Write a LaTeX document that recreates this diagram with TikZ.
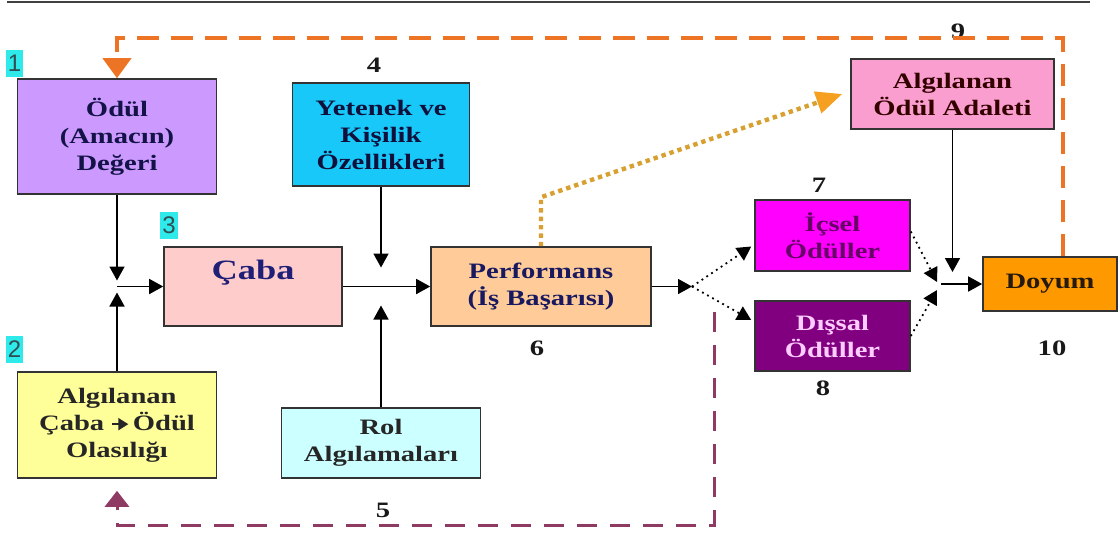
\documentclass[tikz,border=0pt]{standalone}
\usepackage{fontspec}
\setmainfont{Liberation Serif}[FakeStretch=1.3]
\setsansfont{Liberation Sans}
\usetikzlibrary{arrows.meta}
\definecolor{odulfill}{HTML}{CC99FF}
\definecolor{yetenekfill}{HTML}{18C8F8}
\definecolor{cabafill}{HTML}{FFCCCC}
\definecolor{olasfill}{HTML}{FFFF99}
\definecolor{rolfill}{HTML}{CCFFFF}
\definecolor{perffill}{HTML}{FFCC99}
\definecolor{adaletfill}{HTML}{FA9ECF}
\definecolor{icselfill}{HTML}{FF00FF}
\definecolor{dissalfill}{HTML}{800080}
\definecolor{doyumfill}{HTML}{FF9900}
\definecolor{tagcyan}{HTML}{2EEAEA}
\definecolor{tagtext}{HTML}{2F4F55}
\definecolor{fborange}{HTML}{EC7424}
\definecolor{fbmaroon}{HTML}{8E3A62}
\definecolor{golddot}{HTML}{D8A030}
\definecolor{goldtip}{HTML}{F5A020}
\definecolor{navytext}{HTML}{1F1F78}

\begin{document}
\begin{tikzpicture}[x=0.5pt,y=-0.5pt,>={Triangle[length=7pt,width=7.5pt]},
  box/.style={draw=black!80,line width=0.8pt,align=center,inner sep=2pt,text=black!85,
    font=\bfseries\fontsize{11}{13.5}\selectfont},
  tag/.style={font=\bfseries\fontsize{11}{13}\selectfont,text=black!90},
  cyantag/.style={fill=tagcyan,text=tagtext,inner sep=1pt,minimum width=7.5pt,
    minimum height=13.5pt,font=\sffamily\fontsize{12}{13}\selectfont},
  arr/.style={->,line width=0.8pt},
  dotarr/.style={->,line width=0.9pt,dotted},
  fbdash/.style={draw=fborange,line width=2pt,dash pattern=on 11pt off 6pt,
    -{Triangle[length=10pt,width=14pt,fill=fborange]}},
  fbback/.style={draw=fbmaroon,line width=1.5pt,dash pattern=on 10pt off 6.5pt,
    -{Triangle[length=8pt,width=12pt,fill=fbmaroon]}},
  golddash/.style={draw=golddot,line width=2.2pt,dotted,
    -{Triangle[length=13pt,width=11pt,fill=goldtip,color=goldtip]}}]
  \useasboundingbox (0,0) rectangle (1118,532);
  \draw[black!75,line width=0.7pt] (7,2) -- (1090,2);

  \node[box,fill=odulfill,minimum width=99.5pt,minimum height=57.5pt,text=navytext!60!black] (odul) at (117,136.5) {Ödül\\(Amacın)\\Değeri};
  \node[box,fill=olasfill,minimum width=99.5pt,minimum height=53pt] (olas) at (117,425) {Algılanan\\Çaba \tikz[baseline=-0.6ex]\draw[line width=0.9pt,-{Triangle[length=5pt,width=6pt]}] (0pt,0pt) -- (8pt,0pt);\,Ödül\\Olasılığı};
  \node[box,fill=cabafill,minimum width=89pt,minimum height=39.5pt,text depth=17pt,text=navytext,
    font=\bfseries\fontsize{14}{16}\selectfont] (caba) at (253,286.5) {Çaba};
  \node[box,fill=yetenekfill,minimum width=88.5pt,minimum height=51.5pt,text=navytext!50!black] (yetenek) at (381,134.5) {Yetenek ve\\Kişilik\\Özellikleri};
  \node[box,fill=rolfill,minimum width=99.5pt,minimum height=35pt] (rol) at (381,443) {Rol\\Algılamaları};
  \node[box,fill=perffill,minimum width=110pt,minimum height=39.5pt,text=navytext!80!black] (perf) at (541,286.5) {Performans\\(İş Başarısı)};
  \node[box,fill=adaletfill,minimum width=101.5pt,minimum height=35pt,text=black!80!red] (adalet) at (952.5,94) {Algılanan\\Ödül Adaleti};
  \node[box,fill=icselfill,minimum width=77.5pt,minimum height=35.5pt,text=dissalfill!80!black] (icsel) at (832.5,235.5) {İçsel\\Ödüller};
  \node[box,fill=dissalfill,minimum width=77.5pt,minimum height=35pt,text=icselfill!20!white] (dissal) at (832.5,336) {Dışsal\\Ödüller};
  \node[box,fill=doyumfill,minimum width=67pt,minimum height=27pt,text=black!80!brown] (doyum) at (1050,284) {Doyum};

  \node[cyantag] (t1) at (14.5,63.5) {1};
  \node[cyantag] (t2) at (14.5,349) {2};
  \node[cyantag] (t3) at (169,225.5) {3};
  \node[tag] (t4) at (374,65) {4};
  \node[tag] (t5) at (383,510) {5};
  \node[tag] (t6) at (537,348) {6};
  \node[tag] (t7) at (819,185) {7};
  \node[tag] (t8) at (823,388) {8};
  \node[tag] (t9) at (958,31) {9};
  \node[tag] (t10) at (1052,348) {10};

  \coordinate (jl) at (odul.south |- caba.west);
  \coordinate (jm) at (yetenek.south |- caba.east);
  \coordinate (jr) at (692,286.5);
  \coordinate (jd) at (941,284);
  \coordinate (fbtop) at (1063,38);
  \coordinate (fbstart) at (714,312);
  \coordinate (fbbot) at (714,525);

  \draw[arr] (odul.south) -- ([yshift=3pt]jl);
  \draw[arr] (olas.north) -- ([yshift=-3pt]jl);
  \draw[arr] (jl) -- (caba.west);
  \draw[arr] (yetenek.south) -- ([yshift=9.5pt]jm);
  \draw[arr] (rol.north) -- ([yshift=-9.5pt]jm);
  \draw[arr] (caba.east) -- (perf.west);
  \draw[arr] (perf.east) -- (jr);
  \draw[dotarr] (jr) -- ([yshift=-5.5pt,xshift=-1.5pt]icsel.west);
  \draw[dotarr] (jr) -- ([yshift=8pt,xshift=-1.5pt]dissal.west);
  \draw[dotarr] ([yshift=2pt]icsel.east) -- ([yshift=1pt,xshift=-2pt]jd);
  \draw[dotarr] (dissal.east) -- ([yshift=-3pt,xshift=-2pt]jd);
  \draw[arr] (jd) -- (jd -| doyum.west);
  \draw[arr,shorten >=6pt] (adalet.south) -- (adalet.south |- jd);
  \draw[golddash] (perf.north) -- ++(0,-49) -- ([xshift=-4pt]adalet.west);
  \draw[fbdash] (doyum.north -| fbtop) -- (fbtop) -| (odul.north);
  \draw[fbback,shorten >=6pt] (fbstart) -- (fbbot) -| (olas.south);
\end{tikzpicture}
\end{document}
